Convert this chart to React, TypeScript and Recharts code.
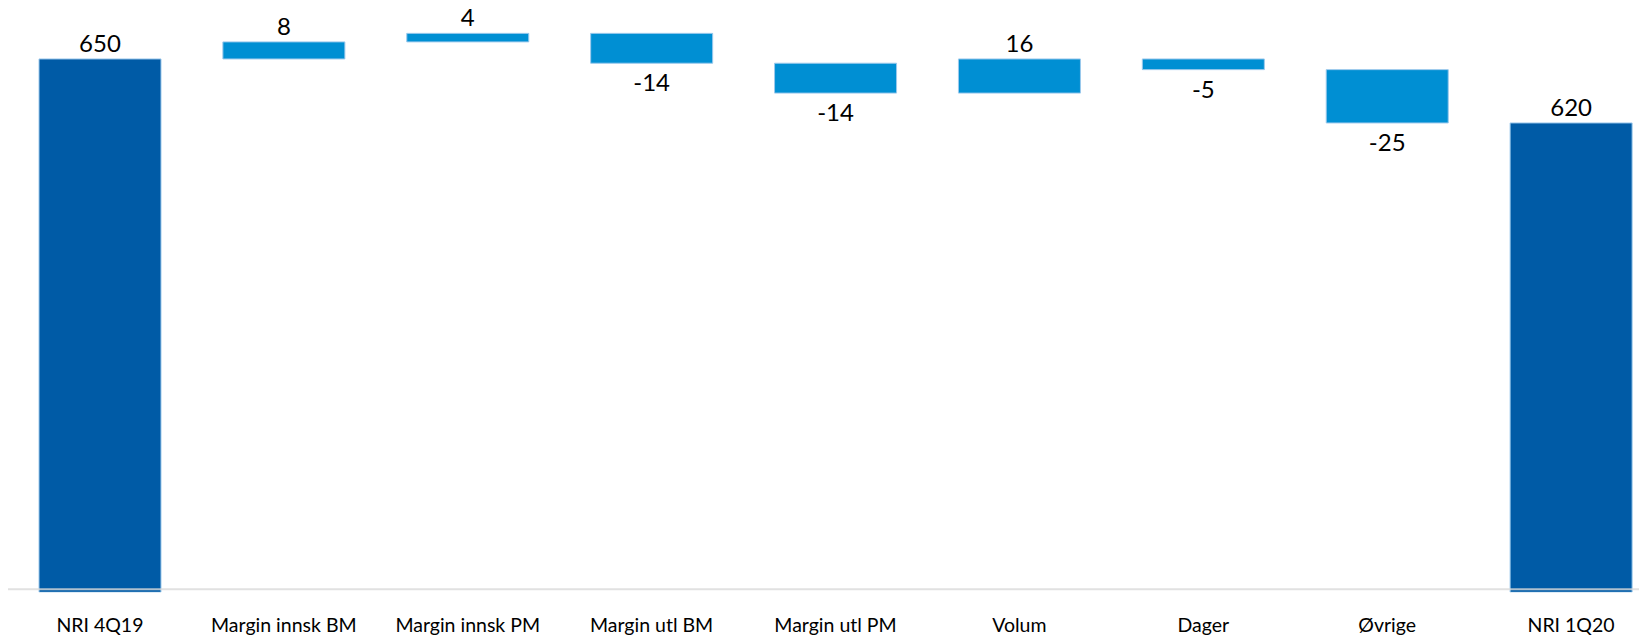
import React from "react";
import { BarChart, Bar, XAxis, YAxis, Cell, LabelList, ReferenceLine } from "recharts";

const CATEGORIES = [
  "NRI 4Q19",
  "Margin innsk BM",
  "Margin innsk PM",
  "Margin utl BM",
  "Margin utl PM",
  "Volum",
  "Dager",
  "Øvrige",
  "NRI 1Q20",
];
const VALUES = [650, 8, 4, -14, -14, 16, -5, -25, 620];
const IS_TOTAL = [true, false, false, false, false, false, false, false, true];
const Y_DOMAIN = [400, 670];

const TOTAL_COLOR = "#005BA6";
const STEP_COLOR = "#008FD3";
const FONT = "Lato, 'Open Sans', sans-serif";

// running total -> [low, high] per bar
let running = 0;
const data = CATEGORIES.map((name, i) => {
  const v = VALUES[i];
  let range: [number, number];
  if (IS_TOTAL[i]) {
    running = v;
    range = [Y_DOMAIN[0], v];
  } else {
    const start = running;
    running += v;
    range = [Math.min(start, running), Math.max(start, running)];
  }
  return { name, range, value: v, total: IS_TOTAL[i] };
});

const ValueLabel = (props: any) => {
  const { x, y, width, height, index } = props;
  const v = VALUES[index];
  const top = Math.min(y, y + height);
  const bottom = Math.max(y, y + height);
  const below = v < 0;
  return (
    <text
      x={x + width / 2}
      y={below ? bottom + 28 : top - 7}
      textAnchor="middle"
      fill="#000"
      fontSize={24}
      fontFamily={FONT}
    >
      {v}
    </text>
  );
};

export default function App() {
  return (
    <div style={{ width: 1639, height: 636, marginTop: -8, overflow: "hidden" }}>
      <BarChart
        width={1655}
        height={636}
        data={data}
        margin={{ top: 16.3, right: 0, left: 0, bottom: 0 }}
        barSize={122}
      >
        <XAxis
          dataKey="name"
          height={43.7}
          axisLine={false}
          tickLine={false}
          tickMargin={20}
          interval={0}
          tick={{ fill: "#000", fontSize: 19.5, fontFamily: FONT }}
        />
        <YAxis hide domain={Y_DOMAIN} allowDataOverflow />
        <Bar dataKey="range" isAnimationActive={false} stroke="#9cc9ec" strokeWidth={1}>
          {data.map((d, i) => (
            <Cell key={i} fill={d.total ? TOTAL_COLOR : STEP_COLOR} />
          ))}
          <LabelList dataKey="value" content={<ValueLabel />} />
        </Bar>
        <ReferenceLine y={401.4} stroke="#d9d9d9" strokeOpacity={0.8} strokeWidth={2} />
      </BarChart>
    </div>
  );
}
